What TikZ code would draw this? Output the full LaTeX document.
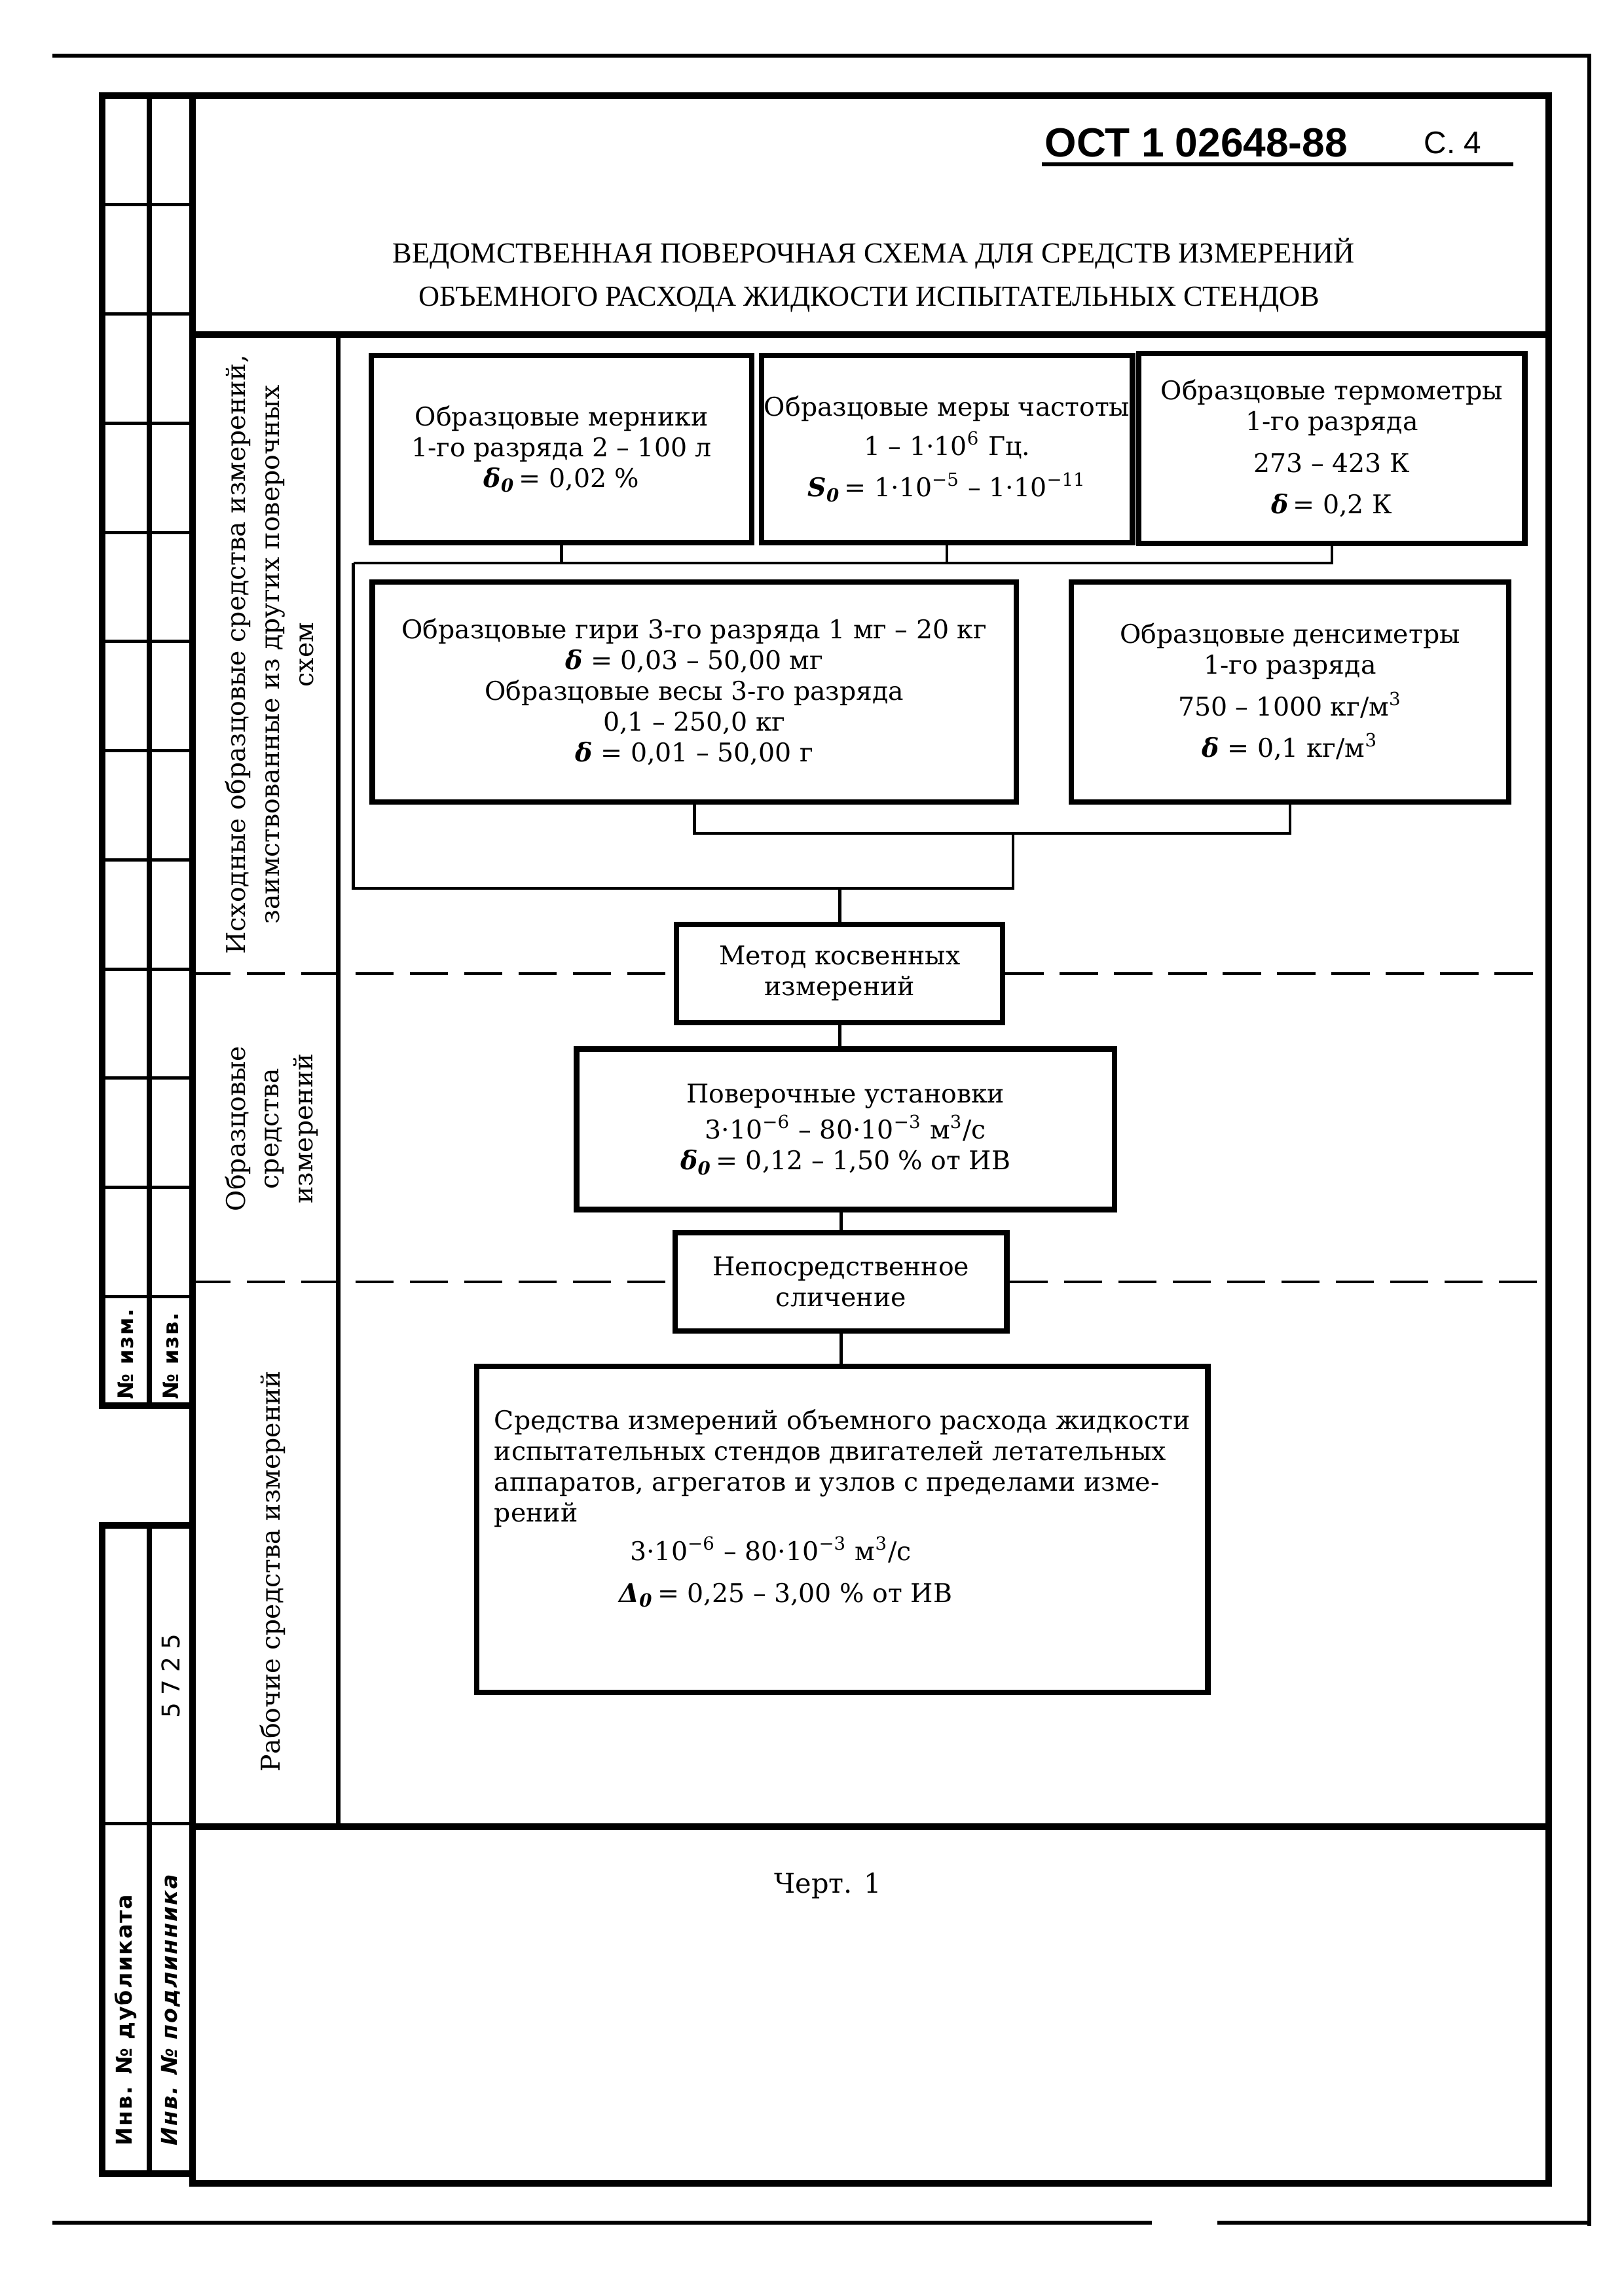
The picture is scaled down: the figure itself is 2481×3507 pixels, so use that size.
\documentclass[tikz,border=0pt]{standalone}
\usepackage{fontspec}
\setmainfont{DejaVu Serif}
\newfontfamily\capsfont{Liberation Serif}
\newfontfamily\headfont{Liberation Sans}
\newfontfamily\stripfont[LetterSpace=6]{DejaVu Sans}
\newfontfamily\numfont[LetterSpace=30]{DejaVu Sans}
\newcommand\boxfont{\fontsize{9.5}{11.3}\selectfont}
\newcommand\sidefont{\fontsize{9.5}{12.5}\selectfont}
\newcommand\gr[1]{\textbf{\textit{#1}}}

\begin{document}
\begin{tikzpicture}[x=0.08464mm, y=-0.08469mm,
    box/.style={draw, line width=2pt, align=center, inner sep=1pt, font=\boxfont},
    link/.style={line width=1.1pt},
    zone/.style={line width=1.1pt, dash pattern=on 14pt off 6pt},
    frame/.style={line width=2.4pt},
    cell/.style={line width=1.2pt},
    side/.style={rotate=90, align=center, font=\sidefont}]

    \fill[white] (0,0) rectangle (2481,3507);
    \useasboundingbox (0,0) rectangle (2481,3507);

    % outer sheet border
    \draw[line width=1.5pt] (80,85) -- (2428,85) -- (2428,3400);
    \draw[line width=1.5pt] (80,3395) -- (1760,3395);
    \draw[line width=1.5pt] (1860,3395) -- (2428,3395);

    % side strip
    \draw[frame] (156,146) rectangle (294,2147);
    \draw[frame] (156,2330) rectangle (294,3320);
    \draw[line width=1.8pt] (228,146) -- (228,2147);
    \draw[line width=1.8pt] (228,2330) -- (228,3320);
    \foreach \i in {1,...,11}
        \draw[cell] (156,146+\i*166.75) -- (294,146+\i*166.75);
    \draw[cell] (156,2785) -- (294,2785);

    \node[rotate=90, anchor=west, inner sep=1pt, font=\stripfont\bfseries\fontsize{7.8}{10}\selectfont] (izm) at (192,2142) {№ изм.};
    \node[rotate=90, anchor=west, inner sep=1pt, font=\stripfont\bfseries\fontsize{7.8}{10}\selectfont] (izv) at (261,2142) {№ изв.};
    \node[rotate=90, font=\numfont\fontsize{9}{10}\selectfont] (num) at (261,2560) {5725};
    \node[rotate=90, anchor=west, font=\stripfont\bfseries\fontsize{8}{10}\selectfont] (dub) at (192,3292) {Инв. № дубликата};
    \node[rotate=90, anchor=west, font=\stripfont\bfseries\itshape\fontsize{8}{10}\selectfont] (orig) at (261,3292) {Инв. № подлинника};

    % main frame
    \draw[frame] (294,146) rectangle (2366,3335);
    \draw[frame] (294,511) -- (2366,511);
    \draw[frame] (294,2790) -- (2366,2790);
    \draw[line width=1.6pt] (517,511) -- (517,2790);
    \coordinate (fl) at (294,0);
    \coordinate (fr) at (2366,0);

    % heading
    \node[font=\headfont\bfseries\fontsize{15}{18}\selectfont] (ost) at (1828,218) {ОСТ 1 02648-88};
    \node[font=\headfont\fontsize{11.5}{14}\selectfont] (page) at (2220,218) {С. 4};
    \draw[line width=1.3pt] (1592,251) -- (2312,251);
    \node[font=\capsfont\fontsize{10.7}{12}\selectfont] (title1) at (1335,387) {ВЕДОМСТВЕННАЯ ПОВЕРОЧНАЯ СХЕМА ДЛЯ СРЕДСТВ ИЗМЕРЕНИЙ};
    \node[font=\capsfont\fontsize{10.7}{12}\selectfont] (title2) at (1328,458) {ОБЪЕМНОГО РАСХОДА ЖИДКОСТИ ИСПЫТАТЕЛЬНЫХ СТЕНДОВ};

    % zone labels
    \node[side] (zone1) at (412,1000) {Исходные образцовые средства измерений,\\заимствованные из других поверочных\\схем};
    \node[side] (zone2) at (415,1724) {Образцовые\\средства\\измерений};
    \node[side] (zone3) at (417,2400) {Рабочие средства измерений};

    % source standards
    \node[box, minimum width=140pt, minimum height=69pt] (mer) at (858,686)
        {Образцовые мерники\\1-го разряда 2 -- 100 л\\\gr{δ}\textsubscript{\gr{0}}\,= 0,02 \%};
    \node[box, minimum width=133pt, minimum height=69pt] (freq) at (1447,686)
        {Образцовые меры частоты\\[3pt]1 -- 1·10\textsuperscript{6} Гц.\\[4pt]\gr{S}\textsubscript{\gr{0}}\,= 1·10\textsuperscript{−5} -- 1·10\textsuperscript{−11}};
    \node[box, minimum width=142pt, minimum height=70pt] (therm) at (2035,685)
        {Образцовые термометры\\1-го разряда\\[4pt]273 -- 423 К\\[4pt]\gr{δ}\,= 0,2 К};
    \node[box, minimum width=237pt, minimum height=81pt] (mass) at (1061,1057)
        {Образцовые гири 3-го разряда 1 мг -- 20 кг\\\gr{δ} = 0,03 -- 50,00 мг\\Образцовые весы 3-го разряда\\0,1 -- 250,0 кг\\\gr{δ} = 0,01 -- 50,00 г};
    \node[box, minimum width=161pt, minimum height=81pt] (dens) at (1971,1057)
        {Образцовые денсиметры\\1-го разряда\\[4pt]750 -- 1000 кг/м\textsuperscript{3}\\[4pt]\gr{δ} = 0,1 кг/м\textsuperscript{3}};

    % central chain
    \node[box, minimum width=120pt, minimum height=36pt] (meth) at (1283,1487)
        {Метод косвенных\\измерений};
    \node[box, minimum width=198pt, minimum height=59pt] (inst) at (1292,1725)
        {Поверочные установки\\[2pt]3·10\textsuperscript{−6} -- 80·10\textsuperscript{−3} м\textsuperscript{3}/с\\\gr{δ}\textsubscript{\gr{0}}\,= 0,12 -- 1,50 \% от ИВ};
    \node[box, minimum width=122pt, minimum height=36pt] (comp) at (1285,1958)
        {Непосредственное\\сличение};
    \node[box, align=left, minimum width=269pt, minimum height=120pt] (work) at (1287,2336)
        {Средства измерений объемного расхода жидкости\\испытательных стендов двигателей летательных\\аппаратов, агрегатов и узлов с пределами изме-\\рений\\[3pt]\hspace*{50pt}3·10\textsuperscript{−6} -- 80·10\textsuperscript{−3} м\textsuperscript{3}/с\\[4pt]\hspace*{46pt}\gr{Δ}\textsubscript{\gr{0}}\,= 0,25 -- 3,00 \% от ИВ\\[6pt]};

    % connectors
    \coordinate (busA) at (540,860);
    \coordinate (busC) at (1548,1357);
    \coordinate (busD) at (1548,1273);
    \draw[link] (mer.south) -- (mer.south |- busA);
    \draw[link] (freq.south) -- (freq.south |- busA);
    \draw[link] (busA) -| (therm.south);
    \draw[link] (mass.south) -- (mass.south |- busD) -- (dens.south |- busD) -- (dens.south);
    \draw[link] (busA) |- (busC) -- (busD);
    \draw[link] (meth.north) -- (meth.north |- busC);
    \draw[link] (meth.south) -- (meth.south |- inst.north);
    \draw[link] (comp.north |- inst.south) -- (comp.north);
    \draw[link] (comp.south) -- (comp.south |- work.north);

    % level boundaries
    \draw[zone] (meth.west -| fl) -- (meth.west);
    \draw[zone] (meth.east) -- (meth.east -| fr);
    \draw[zone] (comp.west -| fl) -- (comp.west);
    \draw[zone] (comp.east) -- (comp.east -| fr);

    \node[font=\fontsize{10}{12}\selectfont] (fig) at (1265,2880) {Черт. 1};
\end{tikzpicture}
\end{document}
